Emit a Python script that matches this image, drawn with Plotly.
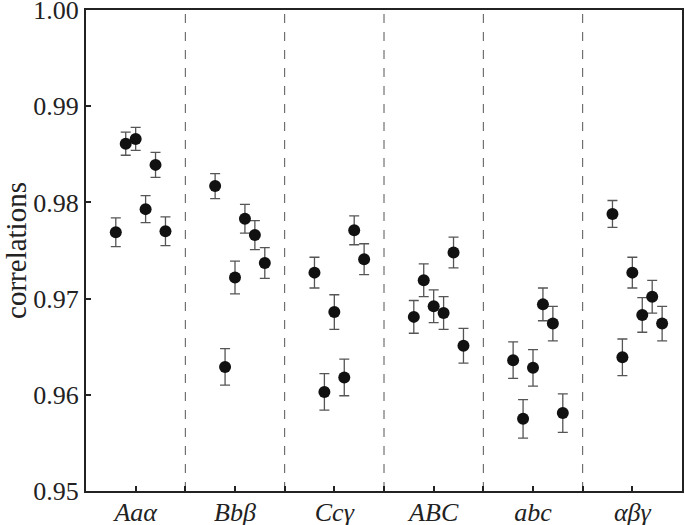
import plotly.graph_objects as go

categories = ["Aaα", "Bbβ", "Ccγ", "ABC", "abc", "αβγ"]

vals_Aaa = [0.9769, 0.9861, 0.9866, 0.9793, 0.9839, 0.9770]
err_Aaa = [0.0015, 0.0012, 0.0012, 0.0014, 0.0013, 0.0015]

vals_Bbb = [0.9817, 0.9629, 0.9722, 0.9783, 0.9766, 0.9737]
err_Bbb = [0.0013, 0.0019, 0.0017, 0.0015, 0.0015, 0.0016]

vals_Ccg = [0.9727, 0.9603, 0.9686, 0.9618, 0.9771, 0.9741]
err_Ccg = [0.0016, 0.0019, 0.0018, 0.0019, 0.0015, 0.0016]

vals_ABC = [0.9681, 0.9719, 0.9692, 0.9685, 0.9748, 0.9651]
err_ABC = [0.0017, 0.0017, 0.0017, 0.0017, 0.0016, 0.0018]

vals_abc = [0.9636, 0.9575, 0.9628, 0.9694, 0.9674, 0.9581]
err_abc = [0.0019, 0.0020, 0.0019, 0.0017, 0.0018, 0.0020]

vals_abg = [0.9788, 0.9639, 0.9727, 0.9683, 0.9702, 0.9674]
err_abg = [0.0014, 0.0019, 0.0016, 0.0018, 0.0017, 0.0018]

all_vals = [vals_Aaa, vals_Bbb, vals_Ccg, vals_ABC, vals_abc, vals_abg]
all_errs = [err_Aaa, err_Bbb, err_Ccg, err_ABC, err_abc, err_abg]

offsets = [-0.2, -0.1, 0.0, 0.1, 0.2, 0.3]

fig = go.Figure()
for i, (v, e) in enumerate(zip(all_vals, all_errs)):
    fig.add_trace(go.Scatter(
        x=[i + o for o in offsets],
        y=v,
        mode="markers",
        marker=dict(color="#111111", size=12),
        error_y=dict(type="data", array=e, visible=True, color="#555555",
                     thickness=1.3, width=5),
        showlegend=False,
        cliponaxis=False,
    ))

for s in [0.5, 1.5, 2.5, 3.5, 4.5]:
    fig.add_shape(type="line", x0=s, x1=s, y0=0, y1=1, xref="x", yref="paper",
                  line=dict(color="#555555", width=1, dash="dash"), layer="below")

fig.update_layout(
    width=685, height=525,
    margin=dict(l=86, r=3, t=10, b=34, autoexpand=False),
    paper_bgcolor="white", plot_bgcolor="white",
    font=dict(family="Liberation Serif, Times New Roman, serif", color="#222222", size=26),
)
fig.update_xaxes(
    range=[-0.5, 5.5],
    tickvals=list(range(len(categories))),
    ticktext=["<i>" + c + "</i>" for c in categories],
    ticks="inside", ticklen=5, tickwidth=1.5, tickcolor="#222222",
    minor=dict(tickvals=[0.5, 1.5, 2.5, 3.5, 4.5], ticks="inside", ticklen=5,
               tickwidth=1.5, tickcolor="#222222"),
    showline=True, linecolor="#222222", linewidth=2, mirror=True,
    showgrid=False, zeroline=False, automargin=False,
    tickfont=dict(size=26), ticklabelstandoff=-3, ticklabeloverflow="allow",
)
fig.update_yaxes(
    range=[0.95, 1.00],
    tickvals=[0.95, 0.96, 0.97, 0.98, 0.99, 1.00],
    ticktext=["0.95", "0.96", "0.97", "0.98", "0.99", "1.00"],
    ticks="inside", ticklen=5, tickwidth=1.5, tickcolor="#222222",
    showline=True, linecolor="#222222", linewidth=2, mirror=True,
    showgrid=False, zeroline=False, automargin=False,
    title=dict(text="correlations", font=dict(size=29), standoff=8),
    tickfont=dict(size=26), ticklabeloverflow="allow",
)

fig.write_html(
    "out.html",
    config={"displayModeBar": False},
    post_script="document.body.style.margin='0';document.body.style.padding='0';",
)
